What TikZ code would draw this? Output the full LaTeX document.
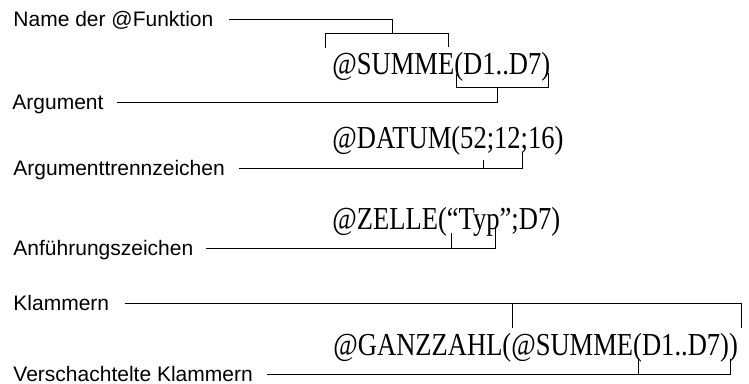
\documentclass[tikz,border=0pt]{standalone}
\usepackage{fontspec}
\setmainfont{Liberation Serif}
\newfontfamily\beschrfont{Liberation Sans}
\newfontfamily\formelfont[FakeStretch=0.83]{Liberation Serif}
\usepackage{tikz}

\begin{document}
\begin{tikzpicture}[x=0.75pt,y=-0.75pt,line width=0.7pt,
  beschr/.style={anchor=base west,inner sep=0pt,text height=11.25pt,text depth=0pt,
    font=\beschrfont\fontsize{15.75}{18}\selectfont},
  formel/.style={anchor=base west,inner sep=0pt,
    font=\formelfont\fontsize{24}{28}\selectfont}]
  \useasboundingbox (0,0) rectangle (749,384);

  \node[beschr] (nfunk) at (13,27) {Name der @Funktion};
  \node[formel] (summe) at (332,75) {@SUMME(D1..D7)};
  \node[beschr] (arg) at (12,110) {Argument};
  \node[formel] (datum) at (332,149) {@DATUM(52;12;16)};
  \node[beschr] (trenn) at (13,175.5) {Argumenttrennzeichen};
  \node[formel] (zelle) at (332,230) {@ZELLE(“Typ”;D7)};
  \node[beschr] (anf) at (13,255.5) {Anführungszeichen};
  \node[beschr] (klam) at (13,310.5) {Klammern};
  \node[formel] (ganz) at (333,355) {@GANZZAHL(@SUMME(D1..D7))};
  \node[beschr] (versch) at (13,381.5) {Verschachtelte Klammern};

  \coordinate (nameM) at (392,33);
  \coordinate (nameL) at (325,48);
  \coordinate (nameR) at (448,47);
  \coordinate (argM) at (497,87);
  \coordinate (argL) at (456,74);
  \coordinate (argR) at (548,73);
  \coordinate (semA) at (483,160);
  \coordinate (semB) at (522,152);
  \coordinate (anfA) at (451,233);
  \coordinate (anfB) at (495,227);
  \coordinate (klA) at (512,328);
  \coordinate (klB) at (741,328);
  \coordinate (vkA) at (638,358);
  \coordinate (vkB) at (730,359);

  \draw ([shift={(15,0)}]nfunk.east) -| (nameM);
  \draw (nameL) |- (nameR |- nameM) -- (nameR);
  \draw (argL) |- (argR |- argM) -- (argR);
  \draw ([shift={(13,0)}]arg.east) -| (argM);
  \draw ([shift={(14,0)}]trenn.east) -| (semB);
  \draw (semA) -- (semA |- trenn.east);
  \draw ([shift={(12,0)}]anf.east) -| (anfB);
  \draw (anfA) -- (anfA |- anf.east);
  \draw ([shift={(15,0)}]klam.east) -| (klB);
  \draw (klA) -- (klA |- klam.east);
  \draw ([shift={(14,0)}]versch.east) -| (vkB);
  \draw (vkA) -- (vkA |- versch.east);
\end{tikzpicture}
\end{document}
